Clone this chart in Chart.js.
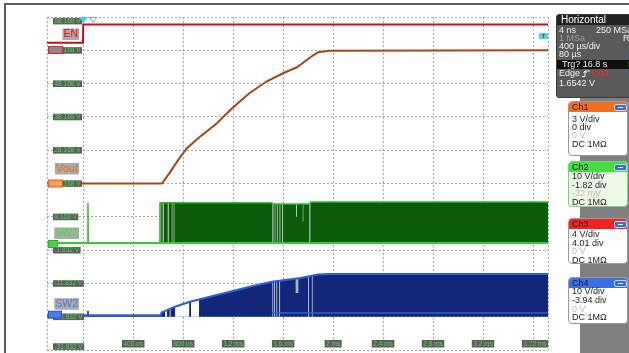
<!DOCTYPE html>
<html>
<head>
<meta charset="utf-8">
<script src="https://cdn.jsdelivr.net/npm/chart.js@4.4.1/dist/chart.umd.min.js"></script>
<style>
body { margin: 0; width: 629px; height: 353px; overflow: hidden; background: #fff; position: relative; font-family: "Liberation Sans", Arial, sans-serif; }
#scope { position: absolute; left: 0; top: 0; }
.frame { position: absolute; left: 4px; top: 3px; width: 700px; height: 400px; border-top: 2px solid #5c5c5c; border-left: 2px solid #5c5c5c; }
.col { position: absolute; left: 580px; top: 97px; width: 49px; height: 256px; background: #808080; }
.hz { position: absolute; left: 556px; top: 14px; width: 80px; height: 82px; background: #5a5a5a; border: 1px solid #3c3c3c; border-radius: 3px; overflow: hidden; }
.hzh { position: absolute; left: 0; top: 0; width: 100%; height: 10px; background: #222; }
.t { position: absolute; font-size: 9px; line-height: 10px; white-space: nowrap; color: #f0f0f0; }
.bar { position: absolute; left: 0; top: 45px; width: 100%; height: 9px; background: #0e0e0e; }
.ch { position: absolute; left: 568px; width: 58px; background: #fff; border: 1px solid #9a9a9a; border-radius: 4px; overflow: hidden; }
.chh { position: absolute; left: 0; top: 0; width: 100%; height: 10px; }
.chh .t { color: #1c1c1c; left: 17px; top: 0; }
.btn { position: absolute; left: 45px; top: 2px; width: 11px; height: 5px; background: #3c6fd6; border: 1px solid #c8d4f0; border-radius: 2px; }
.btn:after { content: ""; position: absolute; left: 3px; top: 2px; width: 5px; height: 1px; background: #fff; }
.ch .t { color: #1e1e1e; left: 3px; }
.ch .dim { color: #bdbdbd; }
</style>
</head>
<body>
<div class="frame"></div>
<canvas id="scope" width="629" height="353"></canvas>

<div class="col"></div>
<div class="hz">
  <div class="hzh"></div>
  <div class="t" style="left:4px;top:0;font-size:10px;color:#fff">Horizontal</div>
  <div class="t" style="left:2px;top:10px">4 ns</div>
  <div class="t" style="left:39px;top:10px">250 MSa</div>
  <div class="t" style="left:2px;top:18px;color:#9c9c9c">1 MSa</div>
  <div class="t" style="left:66px;top:18px">RT</div>
  <div class="t" style="left:2px;top:26px">400 µs/div</div>
  <div class="t" style="left:2px;top:34px">80 µs</div>
  <div class="bar"></div>
  <div class="t" style="left:5px;top:44px">Trg? 16.8 s</div>
  <div class="t" style="left:71px;top:44px;color:#3ed03e">N</div>
  <div class="t" style="left:2px;top:53px">Edge</div>
  <svg style="position:absolute;left:25px;top:55px" width="8" height="7"><path d="M0 6.5 H3 V1 H8" stroke="#f0f0f0" fill="none"/><path d="M1.5 3 L3 1 L4.5 3" stroke="#f0f0f0" fill="none"/></svg>
  <div class="t" style="left:35px;top:53px;color:#ff2a2a">Ch3</div>
  <div class="t" style="left:2px;top:63px">1.6542 V</div>
</div>

<div class="ch" style="top:101px;height:53px">
  <div class="chh" style="background:#f2701c"><div class="t">Ch1</div><div class="btn"></div></div>
  <div class="t" style="top:12px">3 V/div</div>
  <div class="t" style="top:20px">0 div</div>
  <div class="t dim" style="top:28px">0 V</div>
  <div class="t" style="top:37px">DC 1MΩ</div>
</div>
<div class="ch" style="top:161px;height:44px;background:#ecf9e6;border-color:#7ad27a">
  <div class="chh" style="background:#40e040"><div class="t">Ch2</div><div class="btn"></div></div>
  <div class="t" style="top:9px">10 V/div</div>
  <div class="t" style="top:18px">-1.82 div</div>
  <div class="t dim" style="top:26px">-32 mV</div>
  <div class="t" style="top:35px">DC 1MΩ</div>
</div>
<div class="ch" style="top:218px;height:44px">
  <div class="chh" style="background:#f42222"><div class="t">Ch3</div><div class="btn"></div></div>
  <div class="t" style="top:10px">4 V/div</div>
  <div class="t" style="top:19px">4.01 div</div>
  <div class="t dim" style="top:27px">0 V</div>
  <div class="t" style="top:36px">DC 1MΩ</div>
</div>
<div class="ch" style="top:277px;height:45px">
  <div class="chh" style="background:#3b6fe8"><div class="t">Ch4</div><div class="btn"></div></div>
  <div class="t" style="top:8px">10 V/div</div>
  <div class="t" style="top:17px">-3.94 div</div>
  <div class="t dim" style="top:26px">0 V</div>
  <div class="t" style="top:34px">DC 1MΩ</div>
</div>

<script>
// time axis in ms, 400 us/div
var xMin = -0.29, xMax = 3.72;
var gridTimes = [-0.29, 0, 0.4, 0.8, 1.2, 1.6, 2.0, 2.4, 2.8, 3.2, 3.6, 3.72];
var timeTicks = [0.4, 0.8, 1.2, 1.6, 2.0, 2.4, 2.8, 3.2, 3.72];
var timeLabels = ['400 us', '800 us', '1.2 ms', '1.6 ms', '2 ms', '2.4 ms', '2.8 ms', '3.2 ms', '3.72 ms'];
var voltTicks = [-31.832, -21.832, -11.832, -1.832, 8.168, 18.168, 28.168, 38.168, 48.168, 58.168, 68.168];

// EN (Ch3)
var enTime = [-0.29, -0.002, 0, 3.72];
var enVolts = [0.88, 0.88, 3.05, 3.05];

// Vout (Ch1)
var voutTime = [-0.29, 0.63, 0.69, 0.77, 0.83, 0.93, 1.07, 1.2, 1.33, 1.47, 1.6, 1.71, 1.84, 1.88, 1.97, 3.72];
var voutVolts = [0, 0, 0.93, 2.28, 3.18, 4.17, 5.43, 6.87, 8.13, 9.21, 9.93, 10.47, 11.55, 11.82, 11.96, 12.0];

// SW1 (Ch2): switching envelope, low level, pauses [t0, t1, bottom, top0, top1]
var sw1Time = [-0.29, 0.036, 0.038, 0.040, 0.612, 0.614, 1.51, 1.515, 1.815, 1.82, 3.72];
var sw1Volts = [0.3, 0.3, 12.4, 0.3, 0.3, 12.4, 12.4, 12.0, 12.0, 12.6, 12.6];
var sw1Low = 0.3;
var sw1Gaps = [
  [0.616, 0.627, 0.3, 12.4, 12.4], [0.634, 0.646, 0.3, 12.4, 12.4], [0.674, 0.686, 0.3, 12.4, 12.4],
  [0.706, 0.716, 0.3, 12.4, 12.4], [0.722, 0.732, 0.3, 12.4, 12.4],
  [1.512, 1.524, 0.3, 12.0, 12.0], [1.530, 1.540, 0.3, 12.0, 12.0], [1.548, 1.558, 0.3, 12.0, 12.0],
  [1.569, 1.580, 0.3, 12.0, 12.0], [1.590, 1.600, 0.3, 12.0, 12.0],
  [1.702, 1.711, 8.2, 12.0, 12.0], [1.755, 1.764, 6.7, 12.0, 12.0], [1.808, 1.820, 0.3, 12.0, 12.0]
];

// SW2 (Ch4)
var sw2Time = [-0.29, 0.036, 0.038, 0.040, 0.620, 0.627, 0.734, 0.854, 1.07, 1.333, 1.51, 1.74, 1.88, 1.97, 3.72];
var sw2Volts = [-0.2, -0.2, 1.2, -0.2, -0.2, 0.7, 2.4, 3.9, 5.9, 8.4, 9.9, 11.0, 12.05, 12.2, 12.2];
var sw2Low = -0.6;
var sw2EmptyGaps = [
  [0.655, 0.672, -0.6, 1.1, 1.4], [0.690, 0.700, -0.6, 1.7, 1.9],
  [0.735, 0.850, -0.6, 2.4, 3.85], [0.862, 0.928, -0.6, 3.95, 4.55]
];
var sw2PaleGaps = [
  [1.512, 1.522, -0.6, 9.9, 9.95], [1.526, 1.536, -0.6, 10.0, 10.0], [1.544, 1.555, -0.6, 10.1, 10.1],
  [1.566, 1.577, -0.6, 10.2, 10.2], [1.698, 1.724, 6.5, 10.8, 10.9], [1.798, 1.808, -0.6, 11.45, 11.5],
  [1.828, 1.838, -0.6, 11.7, 11.72]
];
var sw2FloorTime = [1.51, 3.72];
var sw2FloorVolts = [0.5, 0.5];

var trigLevel = 1.6542, hDelay = 0.08;

// volts/div and position (div) per channel
var chans = {
  yCh1: { vdiv: 3, pos: 0, off: 0 },
  yCh2: { vdiv: 10, pos: -1.82, off: -0.032 },
  yCh3: { vdiv: 4, pos: 4.01, off: 0 },
  yCh4: { vdiv: 10, pos: -3.94, off: 0 }
};

function pts(t, v) {
  return t.map(function (x, i) { return { x: x, y: v[i] }; });
}
function gapTops(gaps) {
  var p = [];
  gaps.forEach(function (g) { p.push({ x: g[0], y: g[3] }, { x: g[1], y: g[4] }, { x: g[1], y: null }); });
  return p;
}
function gapBottoms(gaps) {
  var p = [];
  gaps.forEach(function (g) { p.push({ x: g[0], y: g[2] }, { x: g[1], y: g[2] }, { x: g[1], y: null }); });
  return p;
}
var none = 'rgba(0,0,0,0)';

var datasets = [
  { data: pts(enTime, enVolts), yAxisID: 'yCh3', borderColor: '#c4101c', borderWidth: 2, order: 1 },
  { data: pts(voutTime, voutVolts), yAxisID: 'yCh1', borderColor: '#aa451b', borderWidth: 2, order: 2 },
  // SW1: 2 fill, 3/4 pauses, 5 envelope, 6 low line
  { data: pts(sw1Time, sw1Volts), yAxisID: 'yCh2', borderColor: none, borderWidth: 1, order: 9,
    fill: { target: { value: sw1Low } }, backgroundColor: '#0b5b0b' },
  { data: gapTops(sw1Gaps), yAxisID: 'yCh2', borderColor: none, borderWidth: 1, order: 8,
    fill: { target: 4 }, backgroundColor: '#b0c9b0' },
  { data: gapBottoms(sw1Gaps), yAxisID: 'yCh2', borderColor: none, borderWidth: 1, order: 20 },
  { data: pts(sw1Time, sw1Volts), yAxisID: 'yCh2', borderColor: '#2fbf2f', borderWidth: 1.5, order: 5 },
  { data: pts([xMin, xMax], [sw1Low, sw1Low]), yAxisID: 'yCh2', borderColor: '#34cc34', borderWidth: 2, order: 3 },
  // SW2: 7 fill, 8/9 empty pauses, 10/11 pale pauses, 12 envelope, 13 floor
  { data: pts(sw2Time, sw2Volts), yAxisID: 'yCh4', borderColor: none, borderWidth: 1, order: 9,
    fill: { target: { value: sw2Low } }, backgroundColor: '#13277a' },
  { data: gapTops(sw2EmptyGaps), yAxisID: 'yCh4', borderColor: none, borderWidth: 1, order: 8,
    fill: { target: 9 }, backgroundColor: '#ffffff' },
  { data: gapBottoms(sw2EmptyGaps), yAxisID: 'yCh4', borderColor: none, borderWidth: 1, order: 20 },
  { data: gapTops(sw2PaleGaps), yAxisID: 'yCh4', borderColor: none, borderWidth: 1, order: 8,
    fill: { target: 11 }, backgroundColor: '#aab3c9' },
  { data: gapBottoms(sw2PaleGaps), yAxisID: 'yCh4', borderColor: none, borderWidth: 1, order: 20 },
  { data: pts(sw2Time, sw2Volts), yAxisID: 'yCh4', borderColor: '#2d5fd8', borderWidth: 2, order: 5 },
  { data: pts(sw2FloorTime, sw2FloorVolts), yAxisID: 'yCh4', borderColor: '#2d5fd8', borderWidth: 1.5, order: 3 }
];

var scales = {
  x: {
    type: 'linear', min: xMin, max: xMax,
    afterBuildTicks: function (s) { s.ticks = gridTimes.map(function (v) { return { value: v }; }); },
    ticks: { display: false },
    grid: { color: '#a6a6a6', drawTicks: false, borderDash: [2, 2] },
    border: { display: false, dash: [2, 2] }
  }
};
Object.keys(chans).forEach(function (id) {
  var c = chans[id];
  scales[id] = {
    type: 'linear', position: 'left', display: id === 'yCh2',
    min: -(5 + c.pos) * c.vdiv + c.off, max: (5 - c.pos) * c.vdiv + c.off,
    ticks: { display: false },
    grid: { color: '#a6a6a6', drawTicks: false, borderDash: [2, 2] },
    border: { display: false, dash: [2, 2] }
  };
});
scales.yCh2.afterBuildTicks = function (s) { s.ticks = voltTicks.map(function (v) { return { value: v }; }); };

var chanLabels = [
  { axis: 'yCh3', name: 'EN', color: '#e80c0c', dy: -15.5, size: 10.5, mark: '#e02020', markFill: '#8a8a8a', w: 15 },
  { axis: 'yCh1', name: 'Vout', color: '#ea6a22', dy: -14.5, size: 11, mark: '#e06010', markFill: '#f2a05c', w: 15 },
  { axis: 'yCh2', name: 'SW1', color: '#3ee03e', dy: -10.5, size: 10.5, mark: '#28b428', markFill: '#4ad04a', w: 10 },
  { axis: 'yCh4', name: 'SW2', color: '#4a78e2', dy: -10.5, size: 10.5, mark: '#2a55c8', markFill: '#4a7ae8', w: 14 }
];

var scopeMarks = {
  id: 'scopeMarks',
  afterDraw: function (chart) {
    var ctx = chart.ctx, a = chart.chartArea;
    var xs = chart.scales.x, yg = chart.scales.yCh2;
    ctx.save();
    ctx.textBaseline = 'middle';
    ctx.textAlign = 'left';
    ctx.font = '6.5px "Liberation Sans", Arial, sans-serif';
    voltTicks.forEach(function (v) {
      var y = Math.min(Math.max(yg.getPixelForValue(v), a.top + 4), a.bottom - 3.5);
      var txt = v.toFixed(3) + ' V';
      var w = ctx.measureText(txt).width + 3;
      ctx.fillStyle = '#5e5e5e';
      ctx.fillRect(a.left + 6, y - 3.2, w, 6.6);
      ctx.fillStyle = '#46dc46';
      ctx.fillText(txt, a.left + 7.5, y + 0.3);
    });
    timeTicks.forEach(function (t, i) {
      var txt = timeLabels[i];
      var w = ctx.measureText(txt).width + 3;
      var x = xs.getPixelForValue(t) - w / 2;
      if (x + w > a.right) x = a.right - w;
      ctx.fillStyle = '#5e5e5e';
      ctx.fillRect(x, a.bottom - 10, w, 7.5);
      ctx.fillStyle = '#46dc46';
      ctx.fillText(txt, x + 1.5, a.bottom - 6);
    });
    chanLabels.forEach(function (c) {
      var y0 = chart.scales[c.axis].getPixelForValue(0);
      ctx.fillStyle = c.markFill;
      ctx.strokeStyle = c.mark;
      ctx.lineWidth = 1;
      ctx.fillRect(a.left + 1, y0 - 3.5, c.w, 7);
      ctx.strokeRect(a.left + 1.5, y0 - 3.5, c.w - 1, 7);
      ctx.font = c.size + 'px "Liberation Sans", Arial, sans-serif';
      var w = ctx.measureText(c.name).width;
      var yl = y0 + c.dy;
      ctx.fillStyle = 'rgba(150,150,150,0.8)';
      ctx.fillRect(79 - w - 2, yl - 6, w + 2, 11.5);
      ctx.fillStyle = c.color;
      ctx.textAlign = 'right';
      ctx.fillText(c.name, 78, yl);
      ctx.textAlign = 'left';
    });
    // trigger position and delay
    var xt = xs.getPixelForValue(0);
    ctx.fillStyle = '#46cfe0';
    ctx.beginPath();
    ctx.moveTo(xt - 4.5, a.top); ctx.lineTo(xt + 4.5, a.top); ctx.lineTo(xt, a.top + 6.5);
    ctx.closePath(); ctx.fill();
    var xd = xs.getPixelForValue(hDelay);
    ctx.strokeStyle = '#9a9a9a';
    ctx.beginPath();
    ctx.moveTo(xd - 3.5, a.top + 0.5); ctx.lineTo(xd + 3.5, a.top + 0.5); ctx.lineTo(xd, a.top + 5.5);
    ctx.closePath(); ctx.stroke();
    // trigger level
    var yt = chart.scales.yCh3.getPixelForValue(trigLevel);
    ctx.fillStyle = '#5ccfdc';
    ctx.fillRect(a.right - 9, yt - 3, 9, 6);
    ctx.fillStyle = '#1a1a1a';
    ctx.font = '5.5px "Liberation Sans", Arial, sans-serif';
    ctx.fillText('T', a.right - 6, yt + 0.3);
    ctx.restore();
  }
};

new Chart(document.getElementById('scope'), {
  type: 'line',
  data: { datasets: datasets },
  options: {
    responsive: false,
    animation: false,
    devicePixelRatio: 1,
    layout: { padding: { left: 47, right: 81, top: 17, bottom: 3 } },
    elements: { point: { radius: 0 }, line: { tension: 0 } },
    plugins: { legend: { display: false }, tooltip: { enabled: false } },
    scales: scales
  },
  plugins: [scopeMarks]
});
</script>
</body>
</html>
